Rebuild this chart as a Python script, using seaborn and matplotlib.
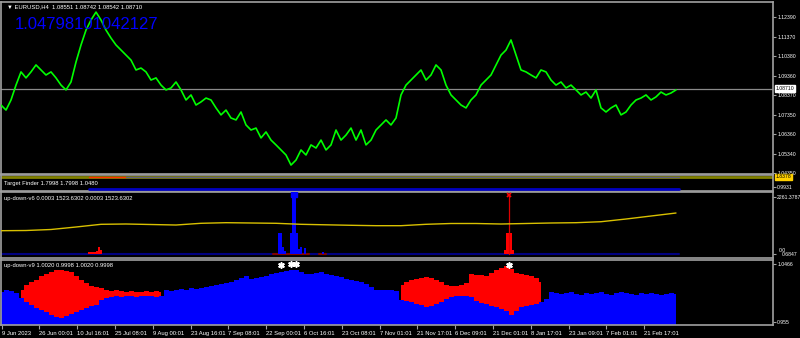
import numpy as np
import pandas as pd
import matplotlib
matplotlib.use("Agg")
import matplotlib.pyplot as plt
import seaborn as sns

sns.set_style("dark")
plt.rcParams['font.family'] = ['Liberation Sans', 'DejaVu Sans']

# ---------------- data ----------------
STEP = 5  # time units between samples
price = [1.0786, 1.0760, 1.0812, 1.0889, 1.0957, 1.0926, 1.0957, 1.0993, 1.0967, 1.0941,
         1.0957, 1.0926, 1.0889, 1.0864, 1.0905, 1.1008, 1.1096, 1.1173, 1.1225, 1.1266,
         1.1225, 1.1173, 1.1132, 1.1096, 1.1070, 1.1044, 1.1018, 1.0967, 1.0977, 1.0957,
         1.0915, 1.0926, 1.0889, 1.0864, 1.0874, 1.0905, 1.0864, 1.0812, 1.0838, 1.0786,
         1.0802, 1.0822, 1.0812, 1.0771, 1.0735, 1.0760, 1.0719, 1.0709, 1.0750, 1.0683,
         1.0657, 1.0667, 1.0616, 1.0647, 1.0605, 1.0580, 1.0554, 1.0528, 1.0476, 1.0502,
         1.0554, 1.0528, 1.0580, 1.0564, 1.0605, 1.0554, 1.0580, 1.0657, 1.0605, 1.0631,
         1.0667, 1.0605, 1.0657, 1.0580, 1.0605, 1.0657, 1.0683, 1.0709, 1.0683, 1.0719,
         1.0838, 1.0889, 1.0915, 1.0941, 1.0967, 1.0915, 1.0941, 1.0993, 1.0967, 1.0889,
         1.0838, 1.0812, 1.0786, 1.0771, 1.0812, 1.0838, 1.0889, 1.0915, 1.0941, 1.0993,
         1.1044, 1.1070, 1.1122, 1.1044, 1.0967, 1.0957, 1.0941, 1.0926, 1.0967, 1.0957,
         1.0915, 1.0889, 1.0905, 1.0874, 1.0889, 1.0864, 1.0838, 1.0853, 1.0822, 1.0864,
         1.0771, 1.0750, 1.0771, 1.0786, 1.0735, 1.0750, 1.0786, 1.0812, 1.0822, 1.0838,
         1.0812, 1.0828, 1.0853, 1.0838, 1.0848, 1.0864]
bid = 1.08710
price_ticks = [1.12390, 1.11370, 1.10380, 1.09360, 1.08370, 1.07350, 1.06360, 1.05340, 1.04350]

date_labels = ["9 Jun 2023", "26 Jun 00:01", "10 Jul 16:01", "25 Jul 08:01", "9 Aug 00:01",
               "23 Aug 16:01", "7 Sep 08:01", "22 Sep 00:01", "6 Oct 16:01", "23 Oct 08:01",
               "7 Nov 01:01", "21 Nov 17:01", "6 Dec 09:01", "21 Dec 01:01", "8 Jan 17:01",
               "23 Jan 09:01", "7 Feb 01:01", "21 Feb 17:01"]

# Target Finder
tf_level = 1.8378
tf_line = 1.7998
tf_low = 0.80

# up-down-v6
V6_STEP = 25
v6_yellow = [924, 932, 972, 1071, 1178, 1190, 1170, 1150, 1218, 1242, 1230, 1218, 1178, 1158,
             1139, 1123, 1123, 1178, 1210, 1210, 1190, 1210, 1230, 1242, 1281, 1388, 1507, 1626]
v6_blue_t = [278, 280, 282, 284, 290, 292, 294, 296, 298, 300, 304, 322]
v6_blue_v = [833, 833, 278, 100, 833, 2300, 2300, 833, 200, 278, 238, 80]
v6_red_t = [88, 90, 92, 94, 96, 98, 100, 504, 506, 508, 510, 512]
v6_red_v = [80, 80, 90, 80, 120, 278, 150, 160, 833, 833, 833, 160]
v6_red_spike_t = 507.5
v6_red_spike_v = 2340
v6_blue_cap_t = 293
v6_blue_cap_v = 2380

# up-down-v9 (blue level, red level; NaN where no red)
v9_blue = [1.0024, 1.0055, 1.0040, 1.0008, 0.9929, 0.9866, 0.9818, 0.9771, 0.9739, 0.9708,
           0.9661, 0.9629, 0.9613, 0.9645, 0.9676, 0.9708, 0.9739, 0.9771, 0.9803, 0.9818,
           0.9897, 0.9929, 0.9945, 0.9960, 0.9945, 0.9960, 0.9960, 0.9945, 0.9960, 0.9960,
           0.9960, 0.9945, 0.9960, 1.0055, 1.0040, 1.0055, 1.0071, 1.0055, 1.0087, 1.0071,
           1.0087, 1.0103, 1.0118, 1.0134, 1.0150, 1.0166, 1.0182, 1.0213, 1.0245, 1.0276,
           1.0229, 1.0245, 1.0261, 1.0276, 1.0308, 1.0324, 1.0340, 1.0355, 1.0371, 1.0371,
           1.0340, 1.0308, 1.0308, 1.0324, 1.0340, 1.0308, 1.0292, 1.0276, 1.0261, 1.0229,
           1.0213, 1.0197, 1.0182, 1.0150, 1.0103, 1.0055, 1.0055, 1.0055, 1.0055, 1.0040,
           0.9897, 0.9882, 0.9866, 0.9834, 0.9818, 0.9787, 0.9803, 0.9834, 0.9866, 0.9913,
           0.9945, 0.9960, 0.9960, 0.9960, 0.9945, 0.9882, 0.9850, 0.9834, 0.9803, 0.9787,
           0.9755, 0.9724, 0.9661, 0.9724, 0.9787, 0.9803, 0.9818, 0.9834, 0.9866, 0.9913,
           1.0024, 1.0008, 0.9992, 1.0008, 1.0024, 0.9992, 0.9976, 1.0008, 0.9992, 1.0008,
           1.0024, 0.9992, 0.9976, 1.0008, 1.0024, 1.0008, 0.9992, 0.9976, 1.0008, 0.9992,
           1.0008, 0.9992, 0.9976, 0.9992, 1.0008, 0.9992]
nan = float('nan')
v9_red = [nan, nan, nan, nan, 1.0055, 1.0134, 1.0182, 1.0213, 1.0276, 1.0308,
          1.0340, 1.0371, 1.0371, 1.0355, 1.0340, 1.0276, 1.0213, 1.0166, 1.0118, 1.0103,
          1.0087, 1.0055, 1.0040, 1.0055, 1.0040, 1.0024, 1.0040, 1.0024, 1.0024, 1.0040,
          1.0024, 1.0040, 1.0024, nan, nan, nan, nan, nan, nan, nan,
          nan, nan, nan, nan, nan, nan, nan, nan, nan, nan,
          nan, nan, nan, nan, nan, nan, nan, nan, nan, nan,
          nan, nan, nan, nan, nan, nan, nan, nan, nan, nan,
          nan, nan, nan, nan, nan, nan, nan, nan, nan, nan,
          1.0134, 1.0182, 1.0213, 1.0229, 1.0245, 1.0261, 1.0245, 1.0213, 1.0182, 1.0134,
          1.0118, 1.0118, 1.0134, 1.0166, 1.0308, 1.0292, 1.0292, 1.0276, 1.0324, 1.0371,
          1.0403, 1.0434, 1.0387, 1.0324, 1.0308, 1.0292, 1.0276, 1.0245, 1.0182, nan,
          nan, nan, nan, nan, nan, nan, nan, nan, nan, nan,
          nan, nan, nan, nan, nan, nan, nan, nan, nan, nan,
          nan, nan, nan, nan, nan, nan]
v9_star_t = [280, 290, 295, 508]
v9_star_v = [1.0450, 1.0460, 1.0460, 1.0450]

# ---------------- layout ----------------
W, H = 800, 338
fig = plt.figure(figsize=(W / 100, H / 100), dpi=100, facecolor='black')
GRAY = '#a0a0a0'
TXT = '#ffffff'
SMALL = 4.2
RSMALL = 3.7
X_RIGHT = 772


def panel(top, bottom):
    ax = fig.add_axes([1 / W, 1 - bottom / H, X_RIGHT / W, (bottom - top) / H])
    ax.set_facecolor('black')
    ax.grid(False)
    for s in ax.spines.values():
        s.set_color(GRAY)
        s.set_linewidth(1.2)
    ax.set_xlim(0, X_RIGHT)
    ax.yaxis.tick_right()
    ax.tick_params(axis='y', colors=GRAY, labelcolor=TXT, labelsize=RSMALL,
                   length=2.0, width=0.8, pad=1.0)
    ax.tick_params(axis='x', bottom=False, labelbottom=False)
    ax.set_xlabel('')
    ax.set_ylabel('')
    return ax


t = np.arange(len(price)) * STEP
# main price panel
ax0 = panel(2, 174)
ax0.set_ylim(1.04298, 1.13180)
ax0.axhline(bid, color='#8a8a8a', lw=0.9, zorder=1)
sns.lineplot(x=t, y=price, ax=ax0, color='#00ff00', lw=1.2, zorder=3)
ax0.set_yticks(price_ticks)
ax0.set_yticklabels([f"{v:.5f}" for v in price_ticks])
ax0.text(1.003, (bid - 1.04298) / (1.13180 - 1.04298), f"{bid:.5f}", transform=ax0.transAxes,
         fontsize=RSMALL, color='black', va='center', ha='left',
         bbox=dict(boxstyle='square,pad=0.15', fc='white', ec='white'))
ax0.text(0.008, 0.975, "\u25bc EURUSD,H4  1.08551 1.08742 1.08542 1.08710",
         transform=ax0.transAxes, fontsize=SMALL, color=TXT, va='center', ha='left')
ax0.text(0.018, 0.87, "1.04798101042127", transform=ax0.transAxes, fontsize=12,
         color='#0000ff', va='center', ha='left')

# Target Finder panel
ax1 = panel(175, 191)
ax1.set_ylim(0.6552, 2.0067)
ax1.axhline(tf_level, color='#808000', lw=2.0, zorder=2)
ax1.plot([88, 125], [tf_line, tf_line], color='#ff3000', lw=1.0, zorder=3)
ax1.plot([125, 678], [tf_line, tf_line], color='#606080', lw=1.0, zorder=3)
ax1.plot([88, 678], [tf_low, tf_low], color='#0000c0', lw=2.0, zorder=3)
ax1.set_yticks([0.9931])
ax1.set_yticklabels(["0.9931"])
ax1.text(1.003, (tf_level - 0.6552) / (2.0067 - 0.6552), f"{tf_level:.4f}", transform=ax1.transAxes,
         fontsize=RSMALL, color='#000000', va='center', ha='left',
         bbox=dict(boxstyle='square,pad=0.15', fc='#ffd000', ec='#ffd000'))
ax1.text(0.004, 0.45, "Target Finder 1.7998 1.7998 1.0480", transform=ax1.transAxes,
         fontsize=SMALL, color=TXT, va='center', ha='left')

# up-down-v6 panel
ax2 = panel(192, 258)
ax2.set_ylim(-159, 2460)
ax2.plot([0, 678], [0, 0], color='#000080', lw=1.5, zorder=2)
ax2.bar(v6_blue_t, v6_blue_v, width=2.0, color='#0000ff', lw=0, edgecolor='none', zorder=3)
ax2.bar(v6_red_t, v6_red_v, width=2.0, color='#ff0000', lw=0, edgecolor='none', zorder=3)
ax2.plot([v6_red_spike_t, v6_red_spike_t], [0, v6_red_spike_v], color='#dd0000', lw=0.9, zorder=3)
ax2.plot([v6_red_spike_t], [v6_red_spike_v], marker='x', color='#ff0000', ms=3.5, mew=1.2, zorder=4)
ax2.plot([v6_blue_cap_t], [v6_blue_cap_v], marker='s', color='#0000ff', ms=4, zorder=4)
ax2.plot([272, 308], [0, 0], color='#800000', lw=1.5, zorder=2.5)
ax2.plot([318, 325], [0, 0], color='#800000', lw=1.5, zorder=2.5)
sns.lineplot(x=np.arange(len(v6_yellow)) * V6_STEP, y=v6_yellow, ax=ax2,
             color='#d8c000', lw=1.0, zorder=4)
ax2.set_yticks([2261.3787, 0.0])
ax2.set_yticklabels(["2261.3787", ""])
ax2.text(1.007, 0.115, "0.0", transform=ax2.transAxes,
         fontsize=RSMALL, color=TXT, va='center', ha='left')
ax2.text(1.0115, 0.05, "0.6847", transform=ax2.transAxes,
         fontsize=RSMALL, color=TXT, va='center', ha='left')
ax2.text(0.004, 0.90, "up-down-v6 0.0003 1523.6302 0.0003 1523.6302", transform=ax2.transAxes,
         fontsize=SMALL, color=TXT, va='center', ha='left')

# up-down-v9 panel
ax3 = panel(260, 325)
lo, hi = 0.9503, 1.0529
ax3.set_ylim(lo, hi)
tb = np.arange(len(v9_blue)) * STEP
blue = np.array(v9_blue)
red = np.array(v9_red)
ax3.fill_between(tb, lo, blue, step='mid', color='#0000ff', lw=0, zorder=2)
has_red = ~np.isnan(red)
ax3.fill_between(tb, blue, np.where(has_red, red, blue), where=has_red, step='mid',
                 color='#ff0000', lw=0, zorder=3)
ax3.scatter(v9_star_t, v9_star_v, marker=(6, 2, 0), s=14, color='white', lw=1.2, zorder=5)
ax3.set_yticks([1.0466, 0.955])
ax3.set_yticklabels(["1.0466", "0.955"])
ax3.text(0.004, 0.92, "up-down-v9 1.0020 0.9998 1.0020 0.9998", transform=ax3.transAxes,
         fontsize=SMALL, color=TXT, va='center', ha='left')
xt = 0.6 + 37.8 * np.arange(len(date_labels))
ax3.set_xticks(xt)
ax3.set_xticklabels(date_labels)
ax3.tick_params(axis='x', bottom=True, labelbottom=True, colors=GRAY, labelcolor=TXT,
                labelsize=SMALL, length=3, width=0.8, pad=1.5)
for lab in ax3.get_xticklabels():
    lab.set_ha('left')

fig.savefig("out.png", dpi=100, facecolor='black')
